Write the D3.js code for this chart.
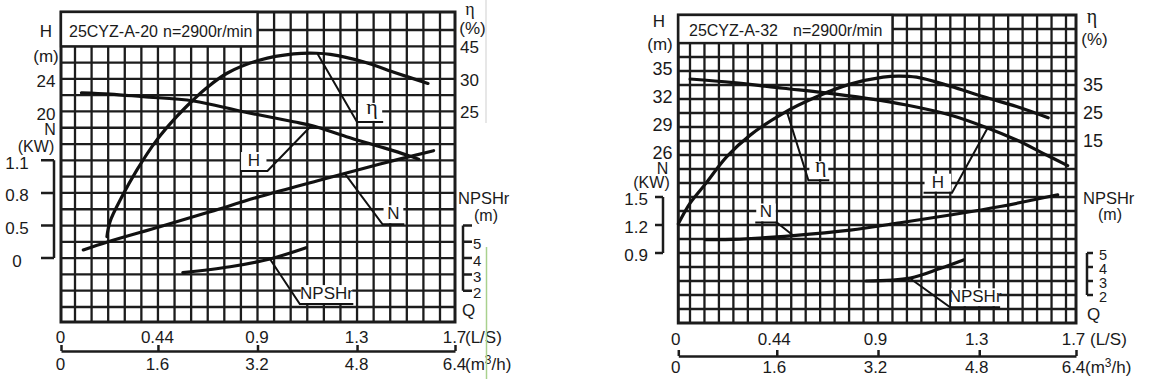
<!DOCTYPE html>
<html>
<head>
<meta charset="utf-8">
<script src="https://cdn.jsdelivr.net/npm/d3@7"></script>
<style>
html, body { margin: 0; padding: 0; background: #fff; }
svg { display: block; }
text { font-family: "Liberation Sans", Arial, sans-serif; fill: #1a1a1a; }
text.greek { font-family: "Liberation Serif", "DejaVu Serif", serif; }
</style>
</head>
<body>
<svg id="chart" width="1162" height="379"></svg>
<script>
// flow axis shared by both charts: grid runs in m3/h, the L/S row is printed above it
var flowTicks = [0, 1.6, 3.2, 4.8, 6.4]
var flowTickLS = ['0', '0.44', '0.9', '1.3', '1.7']
var flowTickM3h = ['0', '1.6', '3.2', '4.8', '6.4']
var FLOW_MAX = 6.4

// 25CYZ-A-20, points are [Q m3/h, value]
var a20Head = [[0.37, 22.3], [0.83, 22.14], [1.36, 21.81], [2.17, 21.29], [2.97, 19.97], [3.78, 18.74],
  [4.10, 18.22], [4.63, 16.9], [5.17, 15.68], [5.60, 14.66], [5.79, 14.13]]
var a20Eff = [[0.78, 5.8], [0.83, 8.1], [1.02, 11.9], [1.26, 16.0], [1.58, 20.6], [1.90, 24.2], [2.17, 26.8],
  [2.38, 28.6], [2.71, 32.6], [3.24, 38.7], [3.78, 41.5], [4.15, 41.8], [4.37, 41.3], [4.90, 37.9],
  [5.44, 32.6], [5.94, 29.3]]
var a20Power = [[0.40, 0.125], [0.80, 0.252], [1.63, 0.482], [2.44, 0.627], [3.24, 0.767], [4.21, 0.919],
  [5.17, 1.066], [6.03, 1.189]]
var a20Npsh = [[2.00, 3.11], [2.76, 3.47], [3.40, 3.95], [3.98, 4.64]]
var a20HeadTicks = [24, 20]
var a20EffTicks = [45, 30, 25]
var a20PowerTicks = [1.1, 0.8, 0.5, 0]
var a20NpshTicks = [5, 4, 3, 2]

// 25CYZ-A-32
var a32Head = [[0.23, 34.14], [0.91, 33.75], [1.70, 33.15], [2.34, 32.68], [3.02, 32.07], [3.65, 31.36],
  [4.34, 30.29], [4.92, 28.93], [5.39, 27.61], [5.81, 26.18], [6.21, 24.86]]
var a32Eff = [[0, 0.2], [0.23, 3.9], [0.47, 7.3], [0.81, 12.2], [1.18, 17.1], [1.70, 24.9], [2.23, 30.8],
  [2.76, 35.3], [3.28, 37.8], [3.52, 38.2], [3.81, 37.8], [4.34, 34.6], [4.87, 30.8], [5.39, 27.3], [5.89, 23.3]]
var a32Power = [[0.47, 1.043], [0.91, 1.045], [1.86, 1.087], [2.76, 1.146], [3.55, 1.224], [4.34, 1.307],
  [5.13, 1.398], [6.04, 1.524]]
var a32Npsh = [[3.01, 3.0], [3.71, 3.21], [4.18, 3.89], [4.55, 4.5]]
var a32HeadTicks = [35, 32, 29, 26]
var a32EffTicks = [35, 25, 15]
var a32PowerTicks = [1.5, 1.2, 0.9]
var a32NpshTicks = [5, 4, 3, 2]

// leader lines to the curve names: curve point, elbow, end of underline
var a20Callouts = [
  {key: 'eff', text: 'η', pts: [[4.16, 41.8], [4.80, 23.4], [5.22, 23.4]]},
  {key: 'head', text: 'H', pts: [[4.06, 18.22], [3.36, 12.69], [2.92, 12.69]]},
  {key: 'power', text: 'N', pts: [[4.61, 0.974], [5.21, 0.511], [5.56, 0.511]]},
  {key: 'npsh', text: 'NPSHr', pts: [[3.40, 3.95], [3.88, 1.18], [4.74, 1.18]]}
]
var a32Callouts = [
  {key: 'eff', text: 'η', pts: [[1.76, 25.5], [2.10, 8.0], [2.43, 8.0]]},
  {key: 'head', text: 'H', pts: [[4.93, 28.86], [4.37, 21.96], [3.92, 21.96]]},
  {key: 'power', text: 'N', pts: [[1.86, 1.087], [1.60, 1.227], [1.26, 1.227]]},
  {key: 'npsh', text: 'NPSHr', pts: [[3.72, 3.14], [4.34, 1.12], [5.13, 1.12]]}
]

var svg = d3.select('#chart')
var INK = '#1c1c1c'

function label(g, x, y, t, opt) {
  opt = opt || {}
  return g.append('text').attr('x', x).attr('y', y)
    .attr('text-anchor', opt.anchor || 'middle')
    .attr('font-size', opt.size || 17)
    .attr('class', opt.cls || null)
    .text(t)
}

function drawPanel(p) {
  var g = svg.append('g')
  var colX = d3.scaleLinear().domain(p.colStops).range(p.colPx)
  var x = d3.scaleLinear().domain(p.colStops.map(function(c) { return c * FLOW_MAX / p.cols })).range(p.colPx)
  var row = d3.scaleLinear().domain(p.rowStops).range(p.rowPx)
  var nRows = p.rowStops[p.rowStops.length - 1]
  var sc = {
    head: d3.scaleLinear().domain(p.headTicks).range(p.headRows.map(row)),
    eff: d3.scaleLinear().domain(p.effDomain).range(p.effRows.map(row)),
    power: d3.scaleLinear().domain(p.powerTicks).range(p.powerRows.map(row)),
    npsh: d3.scaleLinear().domain(p.npshTicks).range(p.npshRows.map(row))
  }
  var left = colX(0), right = colX(p.cols), top = row(0), bottom = row(nRows)

  // grid
  var grid = g.append('g').attr('stroke', INK).attr('stroke-width', 2.3)
  grid.selectAll('line.v').data(d3.range(1, p.cols)).join('line').attr('class', 'v')
    .attr('x1', function(d) { return colX(d) }).attr('x2', function(d) { return colX(d) })
    .attr('y1', top).attr('y2', bottom)
  grid.selectAll('line.h').data(d3.range(1, nRows)).join('line').attr('class', 'h')
    .attr('y1', function(d) { return row(d) }).attr('y2', function(d) { return row(d) })
    .attr('x1', left).attr('x2', right)
  g.append('rect').attr('x', left).attr('y', top).attr('width', right - left).attr('height', bottom - top)
    .attr('fill', 'none').attr('stroke', INK).attr('stroke-width', 3)

  // title box
  g.append('rect').attr('x', left).attr('y', top).attr('width', colX(p.titleCols) - left)
    .attr('height', row(2) - top).attr('fill', '#fff').attr('stroke', INK).attr('stroke-width', 2.3)
  label(g, p.titleX[0], p.titleY, p.title[0], {anchor: 'start', size: 16})
  label(g, p.titleX[1], p.titleY, p.title[1], {anchor: 'start', size: 16})

  // curves
  var line = d3.line().x(function(d) { return x(d[0]) }).curve(d3.curveCatmullRom.alpha(0.5))
  p.series.forEach(function(s) {
    line.y(function(d) { return sc[s.key](d[1]) })
    g.append('path').datum(s.data).attr('d', line)
      .attr('fill', 'none').attr('stroke', '#111').attr('stroke-width', 3.2)
      .attr('stroke-linecap', 'round')
  })

  // callouts
  p.callouts.forEach(function(c) {
    var pts = c.pts.map(function(d) { return [x(d[0]), sc[c.key](d[1])] })
    var a = pts[pts.length - 2], b = pts[pts.length - 1]
    var lx = (a[0] + b[0]) / 2, ly = b[1]
    g.append('rect').attr('x', Math.min(a[0], b[0]) + 1).attr('y', ly - 19)
      .attr('width', Math.abs(b[0] - a[0]) - 2).attr('height', 18).attr('fill', '#fff')
    g.append('path').attr('d', d3.line()(pts)).attr('fill', 'none')
      .attr('stroke', '#111').attr('stroke-width', 2)
    if (c.text === 'η') {
      label(g, lx + 2, ly - 8, c.text, {size: 22, cls: 'greek'})
    } else {
      label(g, lx, ly - 5, c.text, {size: 17})
    }
  })

  // side scales
  p.tickText.forEach(function(t) {
    t.ticks.forEach(function(v) {
      label(g, t.x, sc[t.key](v) + t.dy, String(v), {anchor: t.anchor, size: t.size || 17})
    })
  })
  p.brackets.forEach(function(b) {
    var s = sc[b.key]
    var d = 'M' + b.x + ',' + s(b.span[0]) + 'V' + s(b.span[1])
    b.ticks.forEach(function(v) { d += 'M' + b.x + ',' + s(v) + 'h' + (b.dir * b.len) })
    g.append('path').attr('d', d).attr('fill', 'none').attr('stroke', INK).attr('stroke-width', 2.5)
  })
  p.labels.forEach(function(l) { label(g, l.x, l.y, l.t, l) })

  // flow axis
  var axTop = d3.axisTop(x).tickValues(flowTicks).tickSize(6).tickSizeOuter(0)
    .tickPadding(p.lsPad).tickFormat(function(d, i) { return flowTickLS[i] })
  var gt = g.append('g').attr('transform', 'translate(0,' + p.axisY + ')').call(axTop)
  gt.attr('font-size', 17).attr('font-family', null).style('color', INK)
  gt.select('.domain').attr('stroke-width', 2.5)
  gt.selectAll('.tick line').attr('stroke-width', 2.5)
  gt.selectAll('.tick text').attr('dx', p.labelDx)
  var axBot = d3.axisBottom(x).tickValues(flowTicks).tickSize(0)
    .tickPadding(p.m3Pad).tickFormat(function(d, i) { return flowTickM3h[i] })
  var gb = g.append('g').attr('transform', 'translate(0,' + p.axisY + ')').call(axBot)
  gb.attr('font-size', 17).attr('font-family', null).style('color', INK)
  gb.select('.domain').remove()
  gb.selectAll('.tick text').attr('dx', p.labelDx)
  label(g, p.unitX[0], p.axisY - 6 - p.lsPad, '(L/S)', {anchor: 'start'})
  var um = label(g, p.unitX[1], p.unitY, '(m', {anchor: 'start'})
  um.append('tspan').attr('dy', -6).attr('font-size', 12).text('3')
  um.append('tspan').attr('dy', 6).text('/h)')
}

drawPanel({
  cols: 24, colStops: [0, 1, 23, 24], colPx: [61, 75, 440, 455],
  rowStops: [0, 1, 18, 19], rowPx: [12, 30, 307, 322],
  titleCols: 12, title: ['25CYZ-A-20', 'n=2900r/min'], titleX: [69, 163], titleY: 37,
  headTicks: a20HeadTicks, headRows: [4, 6],
  effDomain: a20EffTicks, effRows: [2, 4, 6],
  powerTicks: a20PowerTicks, powerRows: [9, 11, 13, 15],
  npshTicks: a20NpshTicks, npshRows: [14, 15, 16, 17],
  series: [{key: 'head', data: a20Head}, {key: 'eff', data: a20Eff},
    {key: 'power', data: a20Power}, {key: 'npsh', data: a20Npsh}],
  callouts: a20Callouts,
  tickText: [
    {key: 'head', ticks: a20HeadTicks, x: 46, dy: 8.5, anchor: 'middle'},
    {key: 'eff', ticks: a20EffTicks, x: 460, dy: 7, anchor: 'start'},
    {key: 'power', ticks: a20PowerTicks, x: 17, dy: 8.5, anchor: 'middle'},
    {key: 'npsh', ticks: a20NpshTicks, x: 473, dy: 7.5, anchor: 'start', size: 15}
  ],
  brackets: [
    {key: 'power', x: 54, span: [1.1, 0], ticks: a20PowerTicks, dir: -1, len: 13},
    {key: 'npsh', x: 463, span: [6, 2], ticks: [6].concat(a20NpshTicks), dir: 1, len: 9}
  ],
  labels: [
    {t: 'H', x: 46, y: 37}, {t: '(m)', x: 46, y: 62},
    {t: 'N', x: 50, y: 135, size: 16}, {t: '(KW)', x: 36, y: 152, size: 16},
    {t: 'η', x: 470, y: 15, size: 18, cls: 'greek'}, {t: '(%)', x: 472.5, y: 34},
    {t: 'NPSHr', x: 458, y: 204, anchor: 'start', size: 16.5}, {t: '(m)', x: 486, y: 221, size: 16},
    {t: 'Q', x: 462, y: 316, anchor: 'start'}
  ],
  axisY: 351, lsPad: 2, m3Pad: 7, labelDx: -1, unitX: [465, 465], unitY: 370
})

drawPanel({
  cols: 28, colStops: [0, 1, 27, 28], colPx: [678.3, 690, 1066, 1076],
  rowStops: [0, 22], rowPx: [15, 323],
  titleCols: 15, title: ['25CYZ-A-32', 'n=2900r/min'], titleX: [689, 793], titleY: 36,
  headTicks: a32HeadTicks, headRows: [4, 6, 8, 10],
  // printed scale stops at 15 %; zero sits on the row where the curve leaves Q = 0
  effDomain: [35, 25, 15, 0], effRows: [5, 7, 9, 15],
  powerTicks: a32PowerTicks, powerRows: [13, 15, 17],
  npshTicks: a32NpshTicks, npshRows: [17, 18, 19, 20],
  series: [{key: 'head', data: a32Head}, {key: 'eff', data: a32Eff},
    {key: 'power', data: a32Power}, {key: 'npsh', data: a32Npsh}],
  callouts: a32Callouts,
  tickText: [
    {key: 'head', ticks: a32HeadTicks, x: 662.5, dy: 4, anchor: 'middle', size: 18},
    {key: 'eff', ticks: a32EffTicks, x: 1083, dy: 5.5, anchor: 'start', size: 18},
    {key: 'power', ticks: a32PowerTicks, x: 648, dy: 7.5, anchor: 'end'},
    {key: 'npsh', ticks: a32NpshTicks, x: 1099, dy: 6.5, anchor: 'start', size: 14.5}
  ],
  brackets: [
    {key: 'power', x: 663, span: [1.5, 0.9], ticks: a32PowerTicks, dir: -1, len: 8},
    {key: 'npsh', x: 1087, span: [5, 2], ticks: a32NpshTicks, dir: 1, len: 6}
  ],
  labels: [
    {t: 'H', x: 659, y: 27}, {t: '(m)', x: 660, y: 50},
    {t: 'N', x: 662.5, y: 173.5, size: 16}, {t: '(KW)', x: 651.5, y: 188, size: 16},
    {t: 'η', x: 1092, y: 23, size: 20, cls: 'greek'}, {t: '(%)', x: 1094.5, y: 44.5},
    {t: 'NPSHr', x: 1083, y: 204, anchor: 'start', size: 16.5}, {t: '(m)', x: 1110, y: 220, size: 16},
    {t: 'Q', x: 1087, y: 320, anchor: 'start'}
  ],
  axisY: 356, lsPad: 5, m3Pad: 5, labelDx: -3, unitX: [1090, 1085], unitY: 373
})

// faint scan marks to the right of the first chart
svg.append('line').attr('x1', 486).attr('x2', 486).attr('y1', 0).attr('y2', 123)
  .attr('stroke', '#cfcfcf').attr('stroke-width', 1)
svg.append('line').attr('x1', 486.5).attr('x2', 486.5).attr('y1', 247).attr('y2', 379)
  .attr('stroke', '#a9d18e').attr('stroke-width', 1.5)
</script>
</body>
</html>
